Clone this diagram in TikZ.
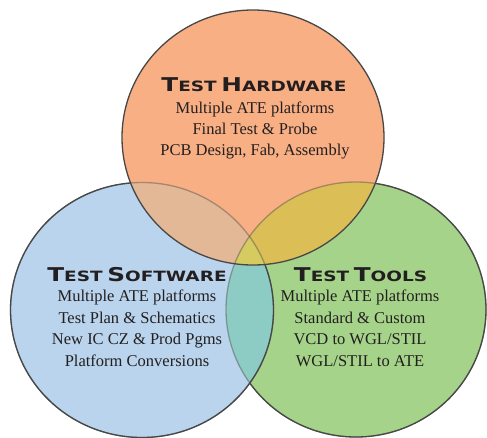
\documentclass[tikz,border=0pt]{standalone}
\usepackage{fontspec}
\setmainfont{Liberation Serif}
\newfontfamily\titlefont{DejaVu Sans}[FakeStretch=1.3]
\newcommand{\SCword}[2]{{\fontsize{19}{19}\selectfont #1}{\fontsize{14.2}{14.2}\selectfont #2}}
\definecolor{cO}{HTML}{F8AF84}
\definecolor{cB}{HTML}{B9D4EC}
\definecolor{cG}{HTML}{A5D389}
\definecolor{cOB}{HTML}{E3B896}
\definecolor{cOG}{HTML}{DBBE56}
\definecolor{cBG}{HTML}{8DCCC4}
\definecolor{cC}{HTML}{D5CB60}
\definecolor{edge}{HTML}{474747}
\definecolor{ink}{HTML}{231F20}
\tikzset{
  toppath/.style={insert path={(253,137.5) ellipse [x radius=131pt, y radius=127.5pt]}},
  leftpath/.style={insert path={(142,310) ellipse [x radius=131.5pt, y radius=127.5pt]}},
  rightpath/.style={insert path={(356,309.5) ellipse [x radius=130pt, y radius=127.5pt]}},
  outer/.style={insert path={(-20,-20) rectangle (510,460)}},
  ring/.style={draw=edge, line width=1.3pt},
  faintring/.style={draw=edge, draw opacity=0.42, line width=1.3pt},
  title/.style={font=\titlefont\bfseries, text=ink, anchor=base, inner sep=0pt},
  body/.style={font=\fontsize{16.5}{20}\selectfont, text=ink, anchor=base, inner sep=0pt}
}
\begin{document}
\begin{tikzpicture}[x=1pt, y=-1pt]
\useasboundingbox (0,0) rectangle (487,437);
% fills
\fill[cB, leftpath];
\fill[cG, rightpath];
\fill[cO, toppath];
\begin{scope}
  \clip[leftpath];
  \fill[cBG, rightpath];
\end{scope}
\begin{scope}
  \clip[toppath];
  \fill[cOB, leftpath];
  \fill[cOG, rightpath];
  \clip[leftpath];
  \fill[cC, rightpath];
\end{scope}
% green outline: faint everywhere, dark outside blue and orange
\path[faintring, rightpath];
\begin{scope}[even odd rule]
  \clip[outer, leftpath];
  \clip[outer, toppath];
  \path[ring, rightpath];
\end{scope}
% blue outline: faint everywhere, dark outside orange
\path[faintring, leftpath];
\begin{scope}[even odd rule]
  \clip[outer, toppath];
  \path[ring, leftpath];
\end{scope}
% orange outline
\path[ring, toppath];
% texts
\node[title] (th) at (254,91.7) {\SCword{T}{EST} \SCword{H}{ARDWARE}};
\node[body] (th1) at (255,113) {Multiple ATE platforms};
\node[body] (th2) at (255,134) {Final Test \& Probe};
\node[body] (th3) at (255,155) {PCB Design, Fab, Assembly};
\node[title] (ts) at (137,281) {\SCword{T}{EST} \SCword{S}{OFTWARE}};
\node[body] (ts1) at (137,301.5) {Multiple ATE platforms};
\node[body] (ts2) at (137,323) {Test Plan \& Schematics};
\node[body] (ts3) at (137,344.5) {New IC CZ \& Prod Pgms};
\node[body] (ts4) at (137,366) {Platform Conversions};
\node[title] (tt) at (360.5,281) {\SCword{T}{EST} \SCword{T}{OOLS}};
\node[body] (tt1) at (360,301.5) {Multiple ATE platforms};
\node[body] (tt2) at (360,323) {Standard \& Custom};
\node[body] (tt3) at (360,344.5) {VCD to WGL/STIL};
\node[body] (tt4) at (360,366) {WGL/STIL to ATE};
\end{tikzpicture}
\end{document}
